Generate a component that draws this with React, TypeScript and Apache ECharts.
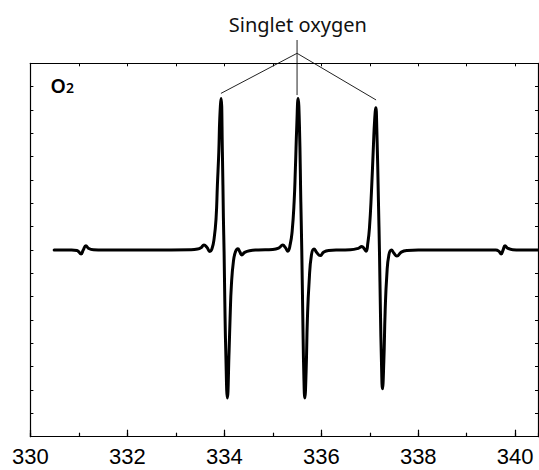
import React, { useEffect, useRef } from 'react';
import * as echarts from 'echarts';

// Magnetic field (mT) tick labels
const xTickLabels = [330, 332, 334, 336, 338, 340];

// ESR signal segments: [field (mT), intensity (a.u.)]
const baselineLeft = [[330.49, 0], [330.85, 0], [330.96, -0.02]];
const satelliteLow = [
  [331.0, -0.08], [331.045, -0.17], [331.09, 0.0], [331.145, 0.18], [331.2, 0.07],
  [331.3, 0.01], [331.5, 0],
];
const baselineMid = [[332.5, 0], [333.3, 0.01], [333.45, 0.04]];
const peakOne = [
  [333.52, 0.1], [333.58, 0.21], [333.64, 0.12], [333.7, -0.06], [333.745, 0.05],
  [333.79, 0.5], [333.83, 1.37], [333.857, 2.78], [333.886, 4.2], [333.906, 5.64],
  [333.933, 6.49], [333.96, 4.2], [333.981, 1.37], [333.995, -0.07], [334.01, -2.2],
  [334.03, -4.35], [334.063, -6.34], [334.098, -4.35], [334.119, -2.9], [334.146, -1.5],
  [334.187, -0.5], [334.23, -0.08], [334.28, 0.05], [334.32, -0.08], [334.36, -0.21],
  [334.42, -0.1], [334.52, -0.03], [334.7, 0],
];
const peakTwo = [
  [335.0, 0.02], [335.12, 0.08], [335.206, 0.21], [335.26, 0.1], [335.31, -0.05],
  [335.36, 0.25], [335.398, 0.78], [335.44, 2.07], [335.466, 3.5], [335.495, 5.35],
  [335.522, 6.49], [335.549, 5.35], [335.578, 2.07], [335.598, -0.07], [335.619, -2.92],
  [335.64, -5.35], [335.66, -6.34], [335.687, -5.2], [335.714, -2.92], [335.749, -1.36],
  [335.797, -0.21], [335.85, 0.04], [335.91, -0.12], [335.976, -0.24], [336.05, -0.09],
  [336.15, -0.02], [336.4, 0],
];
const peakThree = [
  [336.6, 0.01], [336.76, 0.07], [336.836, 0.15], [336.88, 0.07], [336.925, -0.05],
  [336.96, 0.3], [336.993, 0.93], [337.035, 2.5], [337.076, 4.5], [337.1, 5.55],
  [337.125, 6.09], [337.145, 5.2], [337.179, 2.07], [337.2, -0.07], [337.22, -2.64],
  [337.241, -4.78], [337.262, -5.95], [337.29, -4.78], [337.317, -2.64], [337.352, -1.07],
  [337.394, -0.21], [337.447, 0.0], [337.5, -0.14], [337.559, -0.26], [337.65, -0.09],
  [337.77, -0.02], [338.0, 0],
];
const satelliteHigh = [
  [339.0, 0], [339.6, 0], [339.665, -0.06], [339.71, -0.17], [339.75, 0.0],
  [339.79, 0.18], [339.85, 0.07], [339.95, 0.01], [340.1, 0],
];
const baselineRight = [[340.47, 0]];

// Annotation: "Singlet oxygen" pointer targets [field, intensity]
const pointerTargets = [[333.93, 6.71], [335.5, 6.64], [337.13, 6.43]];
const annotationText = 'Singlet oxygen';
const speciesLabel = 'O';
const speciesSub = '2';

const X_MIN = 330;
const X_MAX = 340.47;

export default function App() {
  const ref = useRef<HTMLDivElement>(null);
  useEffect(() => {
    if (!ref.current) return;
    const chart = echarts.init(ref.current, undefined, { renderer: 'svg' });
    const data = [
      ...baselineLeft, ...satelliteLow, ...baselineMid, ...peakOne,
      ...peakTwo, ...peakThree, ...satelliteHigh, ...baselineRight,
    ];
    const black = '#000';
    const lineW = 1.2;
    const hiddenLabel = { show: false };
    chart.setOption({
      animation: false,
      grid: { left: 30.4, right: 1, top: 63.3, bottom: 33.3, show: false },
      xAxis: [
        {
          type: 'value', position: 'bottom', min: X_MIN, max: X_MAX, interval: 2,
          axisLine: { show: true, onZero: false, lineStyle: { color: black, width: lineW } },
          axisTick: { show: true, inside: true, length: 7, lineStyle: { color: black, width: lineW } },
          axisLabel: {
            show: true, fontSize: 22, lineHeight: 22, fontFamily: 'Liberation Sans', color: black,
            margin: 9, showMaxLabel: false,
            formatter: (v: number) => (xTickLabels.indexOf(v) >= 0 ? String(v) : ''),
          },
          splitLine: { show: false },
        },
        {
          type: 'value', position: 'bottom', min: X_MIN, max: X_MAX, interval: 1,
          axisLine: { show: false, onZero: false },
          axisTick: { show: true, inside: true, length: 4, lineStyle: { color: black, width: lineW } },
          axisLabel: hiddenLabel,
          splitLine: { show: false },
        },
        {
          type: 'value', position: 'top', min: X_MIN, max: X_MAX, interval: 1,
          axisLine: { show: true, onZero: false, lineStyle: { color: black, width: lineW } },
          axisTick: { show: true, inside: true, length: 3, lineStyle: { color: black, width: 1 } },
          axisLabel: hiddenLabel,
          splitLine: { show: false },
        },
      ],
      yAxis: [
        {
          type: 'value', position: 'left', min: -8, max: 8, interval: 1,
          axisLine: { show: true, onZero: false, lineStyle: { color: black, width: lineW } },
          axisTick: { show: true, inside: true, length: 3, lineStyle: { color: black, width: 1 } },
          axisLabel: hiddenLabel,
          splitLine: { show: false },
        },
        {
          type: 'value', position: 'right', min: -8, max: 8, interval: 1,
          axisLine: { show: true, onZero: false, lineStyle: { color: black, width: lineW } },
          axisTick: { show: true, inside: true, length: 3, lineStyle: { color: black, width: 1 } },
          axisLabel: hiddenLabel,
          splitLine: { show: false },
        },
      ],
      series: [
        {
          type: 'line', xAxisIndex: 0, yAxisIndex: 0, data,
          showSymbol: false, symbol: 'none', smooth: 0.5,
          lineStyle: { color: black, width: 3, join: 'round', cap: 'round' }, clip: true,
        },
      ],
    });

    const px = pointerTargets.map((p) =>
      chart.convertToPixel({ xAxisIndex: 0, yAxisIndex: 0 }, p) as number[]
    );
    const apexX = px[1][0];
    const apexY = 53.3;
    const lineStyle = { stroke: '#222', lineWidth: 1 };
    chart.setOption({
      graphic: [
        { type: 'line', shape: { x1: apexX, y1: 40, x2: px[1][0], y2: px[1][1] }, style: lineStyle, silent: true },
        { type: 'line', shape: { x1: apexX, y1: apexY, x2: px[0][0], y2: px[0][1] }, style: lineStyle, silent: true },
        { type: 'line', shape: { x1: apexX, y1: apexY, x2: px[2][0], y2: px[2][1] }, style: lineStyle, silent: true },
        {
          type: 'text', x: apexX + 0.8, y: 24,
          style: {
            text: annotationText, fontSize: 20, fontFamily: 'Noto Sans', fill: '#111',
            align: 'center', verticalAlign: 'middle',
          },
          silent: true,
        },
        {
          type: 'text', x: 50.5, y: 85,
          style: {
            text: speciesLabel, fontSize: 19.5, fontWeight: 600, fontFamily: 'Noto Sans', fill: '#000',
            align: 'left', verticalAlign: 'middle',
          },
          silent: true,
        },
        {
          type: 'text', x: 66, y: 87.5,
          style: {
            text: speciesSub, fontSize: 14, fontWeight: 600, fontFamily: 'Noto Sans', fill: '#000',
            align: 'left', verticalAlign: 'middle',
          },
          silent: true,
        },
      ],
    });
    return () => chart.dispose();
  }, []);
  return (
    <div
      ref={ref}
      style={{ position: 'absolute', left: 0, top: 0, width: 539, height: 470, background: '#fff' }}
    />
  );
}
